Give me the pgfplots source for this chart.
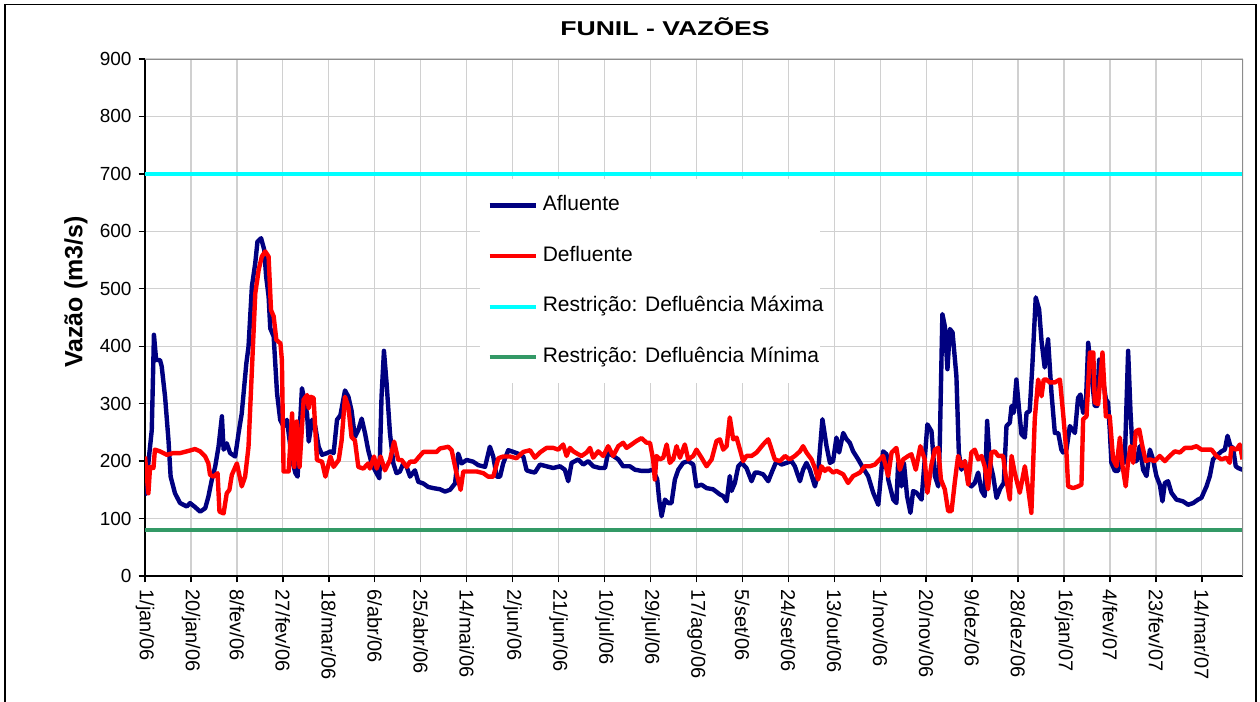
\documentclass[border=0pt]{standalone}
\usepackage{graphicx}
\usepackage{pgfplots}
\pgfplotsset{compat=1.18}
\usepackage{pgfplotstable}
\usepackage{fontspec}
\setmainfont{Liberation Sans}
\definecolor{afl}{HTML}{000080}
\definecolor{dfl}{HTML}{FF0000}
\definecolor{rmax}{HTML}{00FFFF}
\definecolor{rmin}{HTML}{339966}
\definecolor{gridc}{HTML}{D0D0D0}
\definecolor{bordc}{HTML}{8C8C8C}

\pgfplotstableread{
x y
0 140
2.8 254
3.7 420
4.6 376
6.2 376
6.9 365
8.3 312
9.7 237
10.6 173
12.4 144
14.5 127
17.3 121
18.6 127
20.7 120
22.8 112
24.9 118
26.2 138
27.6 167
29.0 190
30.4 225
31.8 278
32.5 220
33.8 231
35.2 214
37.3 208
38.7 249
40.0 283
41.9 370
42.8 399
44.2 504
45.6 545
46.5 582
48.0 588
49.3 568
50.1 521
51.1 487
51.8 431
53.2 417
54.6 318
55.9 272
57.3 260
58.7 272
60.8 202
62.2 179
63.1 173
64.2 272
64.9 327
65.6 312
67.0 283
67.7 234
69.1 272
70.4 260
71.8 225
73.2 211
75.3 214
76.7 217
78.0 214
79.4 272
80.8 280
82.7 323
84.1 312
85.4 288
86.8 242
88.2 254
89.6 274
91.0 248
92.3 219
93.7 196
95.1 184
96.9 170
97.8 312
98.8 392
99.9 335
101.3 248
102.7 196
104.0 179
105.4 182
106.8 196
108.2 190
109.6 173
111.6 184
113.0 164
115.1 161
117.1 155
119.2 153
122.0 151
124.0 147
126.1 150
128.2 161
129.5 213
130.9 196
133.0 202
135.7 199
137.8 193
140.6 190
142.6 225
144.0 208
145.4 173
146.8 173
148.1 196
150.2 219
152.3 216
154.3 213
156.4 208
157.8 184
159.2 182
161.2 180
163.3 194
166.0 191
168.8 188
171.6 191
173.6 185
175.0 165
176.4 197
177.8 200
179.1 203
181.2 194
183.3 200
185.3 191
188.1 188
190.2 188
191.5 215
193.6 209
195.7 203
197.7 191
200.5 191
202.6 185
205.3 183
208.1 183
210.1 185
211.8 168
212.6 133
213.6 104
215.0 133
216.3 127
217.7 127
219.1 168
220.5 185
222.5 197
224.6 200
226.7 194
228.0 156
230.1 159
232.2 153
234.9 151
237.7 142
239.1 139
240.5 130
241.8 174
242.5 148
243.9 162
245.3 191
246.7 197
248.7 188
250.8 165
252.2 180
253.5 180
255.6 177
257.7 165
259.1 180
261.1 200
263.2 194
265.3 197
267.3 200
268.7 191
270.8 165
272.1 185
273.5 197
274.9 185
277.0 156
278.3 180
280.1 273
281.8 226
283.2 197
284.5 200
285.9 241
287.0 215
288.7 249
290.1 238
291.4 232
292.8 217
294.9 203
296.9 188
299.0 174
301.1 145
303.2 124
305.2 217
306.6 212
307.3 168
309.4 133
310.7 127
311.4 197
312.8 156
313.8 197
315.1 139
316.5 110
317.6 148
319.0 145
321.1 133
322.4 203
323.5 264
325.2 252
326.6 174
328.0 156
328.6 223
329.7 456
330.7 435
331.8 360
332.8 430
333.9 424
335.5 348
336.5 215
337.6 185
339.0 200
340.4 162
341.7 156
343.1 162
344.5 180
345.9 148
347.2 139
348.2 270
349.3 200
350.7 174
352.1 136
353.7 153
355.1 162
356.2 261
357.6 267
358.3 296
359.2 284
360.3 342
361.4 290
362.4 247
363.8 241
364.5 284
365.8 287
366.9 366
368.3 485
369.7 464
370.7 409
372.0 363
373.4 412
374.8 319
376.2 249
377.6 249
378.9 220
379.6 215
381.0 220
382.4 261
384.5 249
385.8 310
386.8 316
387.9 284
389.0 296
390.0 406
391.4 348
392.7 296
393.7 296
394.5 377
395.9 348
397.3 308
398.2 302
398.9 255
399.6 197
401.0 183
402.4 183
403.8 220
405.1 197
406.5 392
407.5 284
408.6 200
410.0 200
411.3 226
412.7 185
414.1 174
415.5 220
416.8 203
418.2 174
419.6 159
420.7 130
421.7 162
423.0 165
424.4 145
426.5 133
429.2 130
431.3 124
433.4 127
435.4 133
436.8 136
438.9 156
440.3 174
441.6 203
443.0 209
445.1 217
446.5 220
447.6 244
448.8 226
449.9 223
451.0 191
452.0 188
453.8 185
}\afluente

\pgfplotstableread{
x y
0 208
1.4 144
2.1 190
3.5 188
4.1 220
6.2 217
9.0 211
11.7 214
14.5 214
17.3 217
20.7 221
22.8 217
24.9 208
26.2 196
26.9 176
28.3 173
30.0 179
30.8 112
32.5 109
33.8 144
34.9 150
35.9 176
38.0 196
40.0 156
41.4 173
42.8 225
44.2 359
45.6 492
47.0 533
48.3 556
49.7 565
51.1 556
52.1 463
53.2 452
54.3 411
56.0 405
56.6 376
57.3 182
59.4 182
60.8 283
61.7 190
62.8 269
63.9 190
65.6 307
67.0 315
67.7 292
68.4 312
69.7 310
71.1 202
73.2 199
74.6 173
76.7 208
78.0 190
80.1 202
81.3 236
82.7 312
84.1 294
85.4 242
86.8 236
88.2 190
90.3 187
92.3 196
93.0 187
94.7 208
95.8 187
97.4 208
99.2 184
101.3 202
103.0 234
104.7 202
106.1 202
108.2 190
109.6 199
111.6 199
113.4 208
115.1 216
117.8 216
120.6 216
122.0 222
125.4 225
126.8 219
128.8 179
130.5 150
131.6 182
134.4 182
137.1 182
139.9 179
141.9 173
144.0 173
146.1 205
148.1 208
150.9 208
153.6 205
156.4 216
159.2 219
161.2 206
163.3 215
166.0 223
168.8 223
170.9 220
172.9 229
174.3 209
175.7 223
177.1 217
179.1 212
180.5 209
182.6 215
184.0 223
185.3 206
187.4 217
189.5 209
191.5 226
193.6 209
195.7 226
197.7 232
199.1 223
201.2 229
203.2 235
205.3 240
207.4 232
208.8 232
210.1 203
210.8 168
211.5 209
212.9 203
214.3 206
215.7 229
217.0 197
218.4 203
219.8 226
221.2 206
223.2 229
224.6 203
226.7 209
228.0 220
230.1 206
232.2 191
234.3 203
236.3 235
237.7 238
239.1 220
240.5 226
241.8 276
243.2 238
244.6 241
246.0 220
247.3 200
248.7 209
250.8 209
252.9 215
255.6 229
257.7 238
259.1 220
260.4 203
262.5 200
264.6 209
266.6 203
268.7 209
270.8 217
272.1 226
273.5 215
275.6 203
277.0 188
278.3 168
279.7 191
281.1 183
282.5 188
284.5 180
285.9 183
288.7 177
290.7 162
292.8 174
295.6 180
297.6 191
299.7 191
301.8 194
303.8 203
305.2 209
307.3 174
308.7 215
310.7 223
312.1 185
313.5 203
315.6 209
316.9 212
318.7 185
320.6 226
322.4 203
323.5 145
325.2 194
326.6 220
328.0 223
329.1 168
330.7 151
332.1 113
333.5 113
334.8 162
336.2 209
337.6 191
339.0 200
340.4 159
341.7 215
343.1 220
344.5 203
345.9 209
347.2 191
348.6 151
350.0 215
351.4 217
352.8 209
354.8 209
355.9 174
357.6 133
358.3 209
359.6 180
361.7 145
363.8 191
365.2 151
366.5 110
367.9 273
369.3 342
370.7 313
371.6 342
372.7 342
374.1 337
376.2 337
378.3 342
379.6 284
381.0 215
381.7 156
383.8 153
385.8 156
387.2 159
387.9 273
389.3 278
390.7 389
392.1 389
392.7 302
394.1 299
395.9 389
397.3 278
398.9 278
400.3 203
401.7 191
403.1 241
404.2 191
405.5 156
406.5 200
407.5 226
408.6 197
409.7 252
411.1 255
412.4 226
413.8 200
415.5 203
417.5 200
419.6 209
421.7 200
423.7 209
425.8 217
427.9 215
430.0 223
432.7 223
434.8 226
436.8 220
438.9 220
441.0 220
443.0 209
445.1 203
447.2 206
448.5 197
449.2 223
451.3 220
452.7 229
453.8 203
}\defluente

\begin{document}
\begin{tikzpicture}
\useasboundingbox (0pt,0pt) rectangle (630pt,-351pt);
\draw[black, line width=0.8pt] (2.6pt,-2.2pt) rectangle (627.9pt,-370pt);
\node at (332.5pt,-13.5pt) {\scalebox{1.33}[1]{\fontsize{10}{12}\selectfont\bfseries FUNIL - VAZÕES}};
\node[rotate=90] at (38pt,-146pt) {\fontsize{12.5}{14}\selectfont\bfseries Vazão (m3/s)};
\begin{axis}[
  at={(72.5pt,-288pt)}, anchor=south west,
  scale only axis, width=549pt, height=258.5pt,
  xmin=0, xmax=454, ymin=0, ymax=900,
  xtick={0,19,...,437},
  xticklabels={1/jan/06,20/jan/06,8/fev/06,27/fev/06,18/mar/06,6/abr/06,25/abr/06,14/mai/06,2/jun/06,21/jun/06,10/jul/06,29/jul/06,17/ago/06,5/set/06,24/set/06,13/out/06,1/nov/06,20/nov/06,9/dez/06,28/dez/06,16/jan/07,4/fev/07,23/fev/07,14/mar/07},
  ytick={0,100,...,900},
  axis lines=left,
  axis line style={-, black, line width=0.7pt},
  tick align=outside, major tick length=3.2pt,
  tick style={black, line width=0.7pt},
  grid=major, major grid style={gridc, line width=0.6pt},
  xticklabel style={rotate=-90, anchor=west, font=\fontsize{10}{11}\selectfont},
  yticklabel style={font=\fontsize{9.5}{10}\selectfont},
  /pgf/number format/assume math mode=true,
  legend cell align=left,
  legend image code/.code={\draw[#1] (0pt,0pt) -- (23pt,0pt);},
  legend style={at={(0.3115,0.737)}, anchor=north west, draw=none, fill=none,
    inner xsep=0pt, inner ysep=0pt, row sep=15.3pt, column sep=2.5pt,
    font=\fontsize{10.5}{12}\selectfont,
    nodes={inner sep=0pt, text height=7.6pt, text depth=2.4pt}},
]
\addplot[afl, line width=2.2pt, line join=round] table[x=x,y=y] {\afluente};
\addlegendentry{Afluente}
\addplot[dfl, line width=2.2pt, line join=round] table[x=x,y=y] {\defluente};
\addlegendentry{Defluente}
\addplot[rmax, line width=2pt] coordinates {(0,700) (454,700)};
\addlegendentry{Restrição: Defluência Máxima}
\addplot[rmin, line width=2pt] coordinates {(0,80) (454,80)};
\addlegendentry{Restrição: Defluência Mínima}
\fill[white] (rel axis cs:0.305,0.373) rectangle (rel axis cs:0.615,0.768);
\draw[bordc, line width=0.6pt] (rel axis cs:0,1) -- (rel axis cs:1,1) -- (rel axis cs:1,0);
\end{axis}
\end{tikzpicture}
\end{document}
